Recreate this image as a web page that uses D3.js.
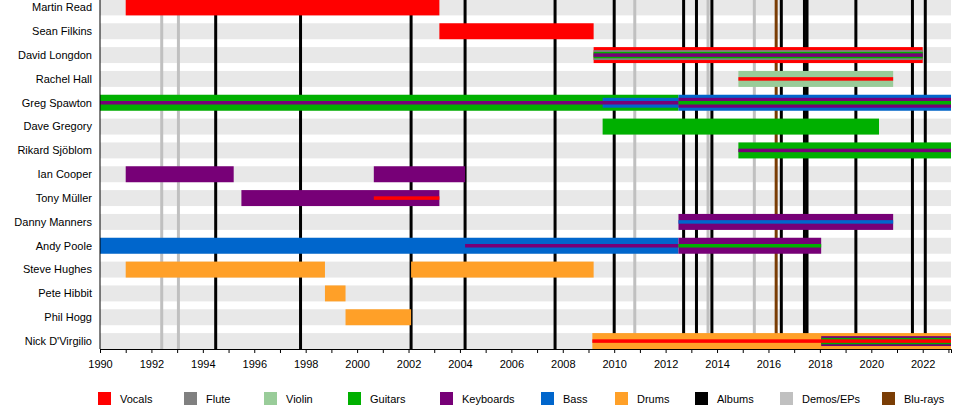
<!DOCTYPE html>
<html><head><meta charset="utf-8">
<script src="https://cdn.jsdelivr.net/npm/d3@7"></script>
<style>body{margin:0;background:#fff}text{font-family:"Liberation Sans",Arial,sans-serif}</style>
</head><body><svg id="c" width="960" height="408"></svg>
<script>
const members = ["Martin Read","Sean Filkins","David Longdon","Rachel Hall","Greg Spawton","Dave Gregory","Rikard Sjöblom","Ian Cooper","Tony Müller","Danny Manners","Andy Poole","Steve Hughes","Pete Hibbit","Phil Hogg","Nick D'Virgilio"];
const instruments = ["Vocals","Flute","Violin","Guitars","Keyboards","Bass","Drums","Albums","Demos/EPs","Blu-rays"];
const colors = ["#ff0000","#808080","#99cc99","#00b000","#770077","#0066cc","#ffa028","#000000","#c0c0c0","#7a3d05"];
const END = 2023.1;
// [member, start, end, instrument, layer]
const bars = [
["Martin Read",1991.0,2003.2,"Vocals",0],
["Sean Filkins",2003.2,2009.2,"Vocals",0],
["David Longdon",2009.2,2022.0,"Vocals",0],
["David Longdon",2009.2,2022.0,"Flute",1],
["David Longdon",2009.2,2022.0,"Guitars",1.5],
["David Longdon",2009.2,2022.0,"Keyboards",2],
["Rachel Hall",2014.83,2020.85,"Violin",0],
["Rachel Hall",2014.83,2020.85,"Vocals",2],
["Greg Spawton",1990,2012.5,"Guitars",0],
["Greg Spawton",2009.55,2012.5,"Bass",1],
["Greg Spawton",1990,2012.5,"Keyboards",2],
["Greg Spawton",2012.5,END,"Bass",0],
["Greg Spawton",2012.5,END,"Keyboards",1],
["Greg Spawton",2012.5,END,"Guitars",2],
["Dave Gregory",2009.55,2020.3,"Guitars",0],
["Rikard Sjöblom",2014.83,END,"Guitars",0],
["Rikard Sjöblom",2014.83,END,"Keyboards",2],
["Ian Cooper",1991.0,1995.2,"Keyboards",0],
["Ian Cooper",2000.65,2004.2,"Keyboards",0],
["Tony Müller",1995.5,2003.2,"Keyboards",0],
["Tony Müller",2000.65,2003.2,"Vocals",2],
["Danny Manners",2012.5,2020.85,"Keyboards",0],
["Danny Manners",2012.5,2020.85,"Bass",2],
["Andy Poole",1990,2012.5,"Bass",0],
["Andy Poole",2004.2,2012.5,"Keyboards",2],
["Andy Poole",2012.5,2018.05,"Keyboards",0],
["Andy Poole",2012.5,2018.05,"Guitars",2],
["Steve Hughes",1991.0,1998.75,"Drums",0],
["Steve Hughes",2002.1,2009.2,"Drums",0],
["Pete Hibbit",1998.75,1999.55,"Drums",0],
["Phil Hogg",1999.55,2002.1,"Drums",0],
["Nick D'Virgilio",2009.15,END,"Drums",0],
["Nick D'Virgilio",2018.05,END,"Keyboards",1],
["Nick D'Virgilio",2018.05,END,"Guitars",1.5],
["Nick D'Virgilio",2009.15,END,"Vocals",2]
];
const albums = [1994.5,1997.8,2002.1,2004.2,2007.7,2010.0,2012.7,2013.2,2013.8,2016.5,2017.4,2017.5,2019.4,2021.6,2022.1];
const demos = [1992.4,1993.05,2010.8,2013.65,2015.45];
const blurays = [2016.3];
const tickYears = d3.range(1990,2024);
const labelYears = d3.range(1990,2023,2);

const svg = d3.select("#c");
const x = d3.scaleLinear().domain([1990,END]).range([100,951]);
const y = d3.scaleBand().domain(members).range([-4.5,353]).paddingInner(0.33).paddingOuter(0.165);
const col = d3.scaleOrdinal().domain(instruments).range(colors);
const layerH = {0:1,1:0.62,1.5:0.4,2:0.22};

svg.append("g").selectAll("rect").data(members).join("rect")
  .attr("x",x(1990)).attr("width",x(END)-x(1990)).attr("y",d=>y(d)).attr("height",y.bandwidth()).attr("fill","#e8e8e8");

svg.append("g").selectAll("text").data(members).join("text")
  .attr("x",92).attr("y",d=>y(d)+y.bandwidth()/2).attr("dy","0.35em").attr("text-anchor","end")
  .attr("font-size",11).text(d=>d);

const ev = [...demos.map(v=>[v,"Demos/EPs"]),...albums.map(v=>[v,"Albums"]),...blurays.map(v=>[v,"Blu-rays"])];
svg.append("g").selectAll("line").data(ev).join("line")
  .attr("x1",d=>x(d[0])).attr("x2",d=>x(d[0])).attr("y1",0).attr("y2",349)
  .attr("stroke",d=>col(d[1])).attr("stroke-width",3);

const bw = y.bandwidth();
svg.append("g").selectAll("rect").data(bars.slice().sort((a,b)=>a[4]-b[4])).join("rect")
  .attr("x",d=>x(d[1])).attr("width",d=>x(d[2])-x(d[1]))
  .attr("y",d=>y(d[0])+bw*(1-layerH[d[4]])/2).attr("height",d=>bw*layerH[d[4]])
  .attr("fill",d=>col(d[3]));

const ax = svg.append("g").attr("transform","translate(0,349)")
  .call(d3.axisBottom(x).tickValues(tickYears).tickSize(4).tickFormat(d=>labelYears.includes(d)?d:""));
ax.select(".domain").attr("stroke","#000");
ax.selectAll("text").attr("font-size",11).attr("font-family","Liberation Sans, Arial").attr("dy","1.1em");
svg.append("line").attr("x1",100).attr("x2",100).attr("y1",0).attr("y2",349).attr("stroke","#000");

const lx = [98,184,264,348,440,541,615,695,780,882];
const lg = svg.append("g").selectAll("g").data(instruments).join("g")
  .attr("transform",(d,i)=>`translate(${lx[i]},392)`);
lg.append("rect").attr("width",13).attr("height",13).attr("fill",d=>col(d));
lg.append("text").attr("x",22).attr("y",7).attr("dy","0.35em").attr("font-size",11).text(d=>d);
</script></body></html>
